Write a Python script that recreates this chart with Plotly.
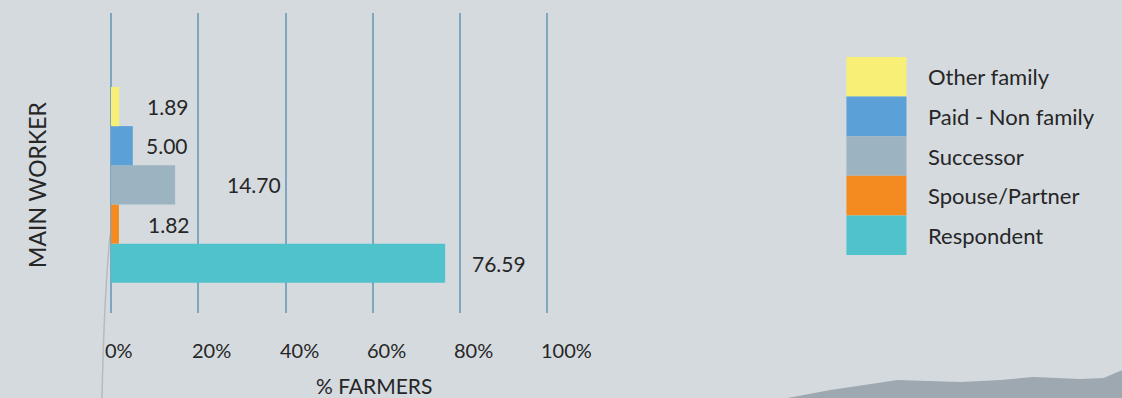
import plotly.graph_objects as go

# Who is the main worker on the farm (% of farmers)
category = ["MAIN WORKER"]
series_names = ["Respondent", "Spouse/Partner", "Successor", "Paid - Non family", "Other family"]
series_values = [76.59, 1.82, 14.70, 5.00, 1.89]
series_labels = ["76.59", "1.82", "14.70", "5.00", "1.89"]
tick_values = [0, 20, 40, 60, 80, 100]
tick_labels = ["0%", "20%", "40%", "60%", "80%", "100%"]

colors = ["#4fc2cc", "#f38b21", "#9cb3c2", "#5ba1d7", "#f7ef76"]
label_pad = [25, 27, 50, 11, 26]  # pixel gap between bar end and its value label

W, H = 1122, 398
X_MAX = 100.4            # a little headroom so the 100% grid line is drawn
PX_PER_UNIT = 4.36
M_L, M_T, M_B = 111, 13, 85
M_R = W - M_L - PX_PER_UNIT * X_MAX
BARGAP = 0.347
Y_RANGE = [-0.427, 0.573]
FONT = "Lato, 'Open Sans', sans-serif"
TEXT_COLOR = "#262626"
BG = "#d5dadf"

fig = go.Figure()
for name, val, col in zip(series_names, series_values, colors):
    fig.add_trace(go.Bar(
        y=category, x=[val], name=name, orientation="h",
        marker=dict(color=col, line=dict(width=0)),
        showlegend=False, hoverinfo="name+x",
    ))

# value labels centred on each grouped bar
n = len(series_names)
bar_w = (1 - BARGAP) / n
annotations = []
for i, (val, txt, pad) in enumerate(zip(series_values, series_labels, label_pad)):
    yc = -(1 - BARGAP) / 2 + bar_w * (i + 0.5)
    annotations.append(dict(
        x=val, y=yc, xref="x", yref="y", text=txt, showarrow=False,
        xanchor="left", yanchor="middle", xshift=pad,
        font=dict(size=21, color=TEXT_COLOR, family=FONT),
    ))

# x tick labels, left-aligned on their grid lines
for tv, tl in zip(tick_values, tick_labels):
    annotations.append(dict(
        x=tv, y=-0.123, xref="x", yref="paper", text=tl, showarrow=False,
        xanchor="left", yanchor="middle", xshift=-8,
        font=dict(size=20, color=TEXT_COLOR, family=FONT),
    ))

# axis titles
annotations.append(dict(
    x=60.3, y=-0.24, xref="x", yref="paper", text="% FARMERS", showarrow=False,
    xanchor="center", yanchor="middle",
    font=dict(size=21, color=TEXT_COLOR, family=FONT),
))

plot_w = W - M_L - M_R
plot_h = H - M_T - M_B
def px_x(px):
    return (px - M_L) / plot_w
def px_y(py):
    return (H - M_B - py) / plot_h

annotations.append(dict(
    x=px_x(37), y=px_y(185), xref="paper", yref="paper", text="MAIN WORKER", showarrow=False,
    textangle=-90, xanchor="center", yanchor="middle",
    font=dict(size=23, color=TEXT_COLOR, family=FONT),
))

# legend: large colour blocks stacked top to bottom, names to the right
shapes = []
sw_top, sw_h = 57, 39.6
legend_order = list(range(n))[::-1]
for row, i in enumerate(legend_order):
    top = sw_top + row * sw_h
    shapes.append(dict(
        type="rect", xref="paper", yref="paper",
        x0=px_x(846), x1=px_x(906), y0=px_y(top + sw_h), y1=px_y(top),
        fillcolor=colors[i], line=dict(width=0), layer="above",
    ))
    annotations.append(dict(
        x=px_x(926), y=px_y(top + sw_h / 2), xref="paper", yref="paper",
        text=series_names[i], showarrow=False, xanchor="left", yanchor="middle",
        font=dict(size=22, color=TEXT_COLOR, family=FONT),
    ))

# backdrop: distant hill silhouette and a faint stem line
hill = [(787, 398), (830, 390), (897, 380), (960, 382), (1000, 380), (1033, 377),
        (1080, 379), (1103, 378), (1117, 372), (1122, 370), (1122, 398)]
path = "M " + " L ".join(f"{px_x(x):.4f},{px_y(y):.4f}" for x, y in hill) + " Z"
shapes.append(dict(type="path", xref="paper", yref="paper", path=path,
                   fillcolor="#9ea8b1", line=dict(width=0), layer="below"))
stem = f"M {px_x(110):.4f},{px_y(235):.4f} Q {px_x(104):.4f},{px_y(300):.4f} {px_x(102):.4f},{px_y(398):.4f}"
shapes.append(dict(type="path", xref="paper", yref="paper", path=stem,
                   line=dict(color="#b3bcc3", width=1.5), layer="below"))

fig.update_layout(
    width=W, height=H,
    margin=dict(l=M_L, r=M_R, t=M_T, b=M_B, pad=0),
    paper_bgcolor=BG, plot_bgcolor="rgba(0,0,0,0)",
    barmode="group", bargap=BARGAP, bargroupgap=0,
    font=dict(family=FONT, color=TEXT_COLOR),
    xaxis=dict(range=[0, X_MAX], tickvals=tick_values, showticklabels=False,
               showgrid=True, gridcolor="#7ea6bf", gridwidth=2,
               zeroline=True, zerolinecolor="#7ea6bf", zerolinewidth=2,
               showline=False, ticks=""),
    yaxis=dict(range=Y_RANGE, showticklabels=False, showgrid=False,
               zeroline=False, showline=False, ticks=""),
    annotations=annotations, shapes=shapes,
    showlegend=False,
)

fig.write_html("out.html")
